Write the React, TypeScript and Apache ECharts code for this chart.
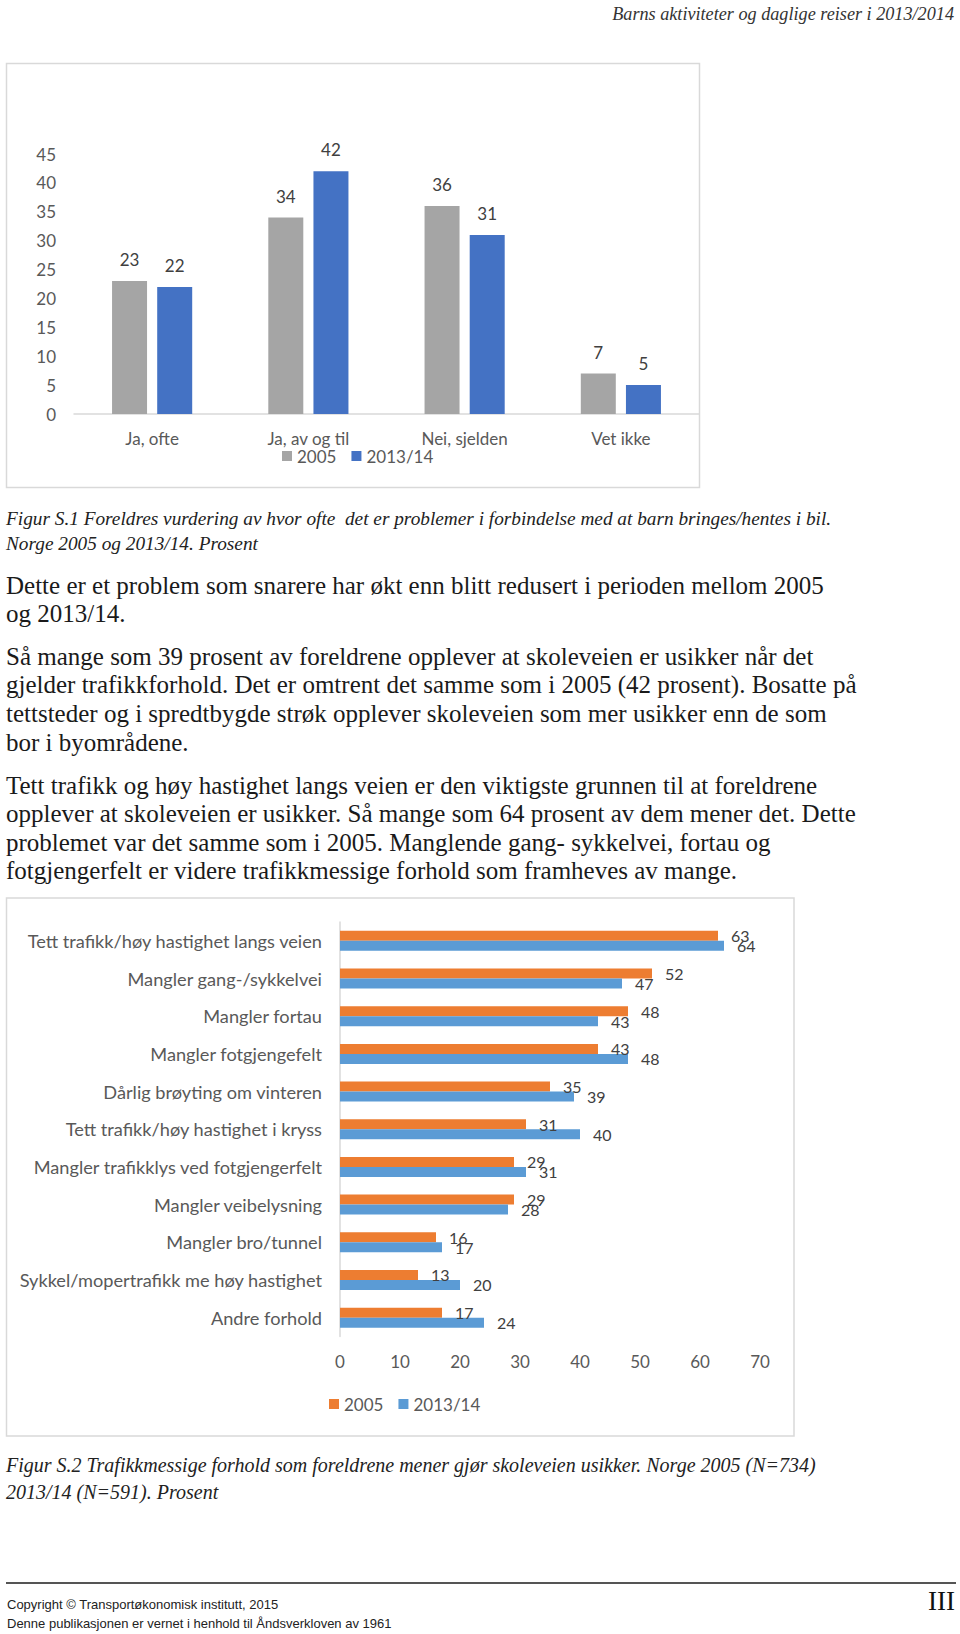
import React, { useEffect, useRef } from "react";
import * as echarts from "echarts";

// ---------- Data ----------
const cats1 = ["Ja, ofte", "Ja, av og til", "Nei, sjelden", "Vet ikke"];
const fig1_2005 = [23, 34, 36, 7];
const fig1_2013 = [22, 42, 31, 5];
const fig1Max = 45;
const fig1Interval = 5;

const cats2 = [
  "Tett trafikk/høy hastighet langs veien",
  "Mangler gang-/sykkelvei",
  "Mangler fortau",
  "Mangler fotgjengefelt",
  "Dårlig brøyting om vinteren",
  "Tett trafikk/høy hastighet i kryss",
  "Mangler trafikklys ved fotgjengerfelt",
  "Mangler veibelysning",
  "Mangler bro/tunnel",
  "Sykkel/mopertrafikk me høy hastighet",
  "Andre forhold",
];
const fig2_2005 = [63, 52, 48, 43, 35, 31, 29, 29, 16, 13, 17];
const fig2_2013 = [64, 47, 43, 48, 39, 40, 31, 28, 17, 20, 24];
const fig2Max = 70;
const fig2Interval = 10;

const seriesNames = ["2005", "2013/14"];

const headerText = "Barns aktiviteter og daglige reiser i 2013/2014";
const caption1 = [
  "Figur S.1 Foreldres vurdering av hvor ofte  det er problemer i forbindelse med at barn bringes/hentes i bil.",
  "Norge 2005 og 2013/14. Prosent",
];
const bodyLines = [
  "Dette er et problem som snarere har økt enn blitt redusert i perioden mellom 2005",
  "og 2013/14.",
  "Så mange som 39 prosent av foreldrene opplever at skoleveien er usikker når det",
  "gjelder trafikkforhold. Det er omtrent det samme som i 2005 (42 prosent). Bosatte på",
  "tettsteder og i spredtbygde strøk opplever skoleveien som mer usikker enn de som",
  "bor i byområdene.",
  "Tett trafikk og høy hastighet langs veien er den viktigste grunnen til at foreldrene",
  "opplever at skoleveien er usikker. Så mange som 64 prosent av dem mener det. Dette",
  "problemet var det samme som i 2005. Manglende gang- sykkelvei, fortau og",
  "fotgjengerfelt er videre trafikkmessige forhold som framheves av mange.",
];
const bodyLineY = [585, 613, 656, 684, 713, 742, 785, 813, 842, 870];
const caption2 = [
  "Figur S.2 Trafikkmessige forhold som foreldrene mener gjør skoleveien usikker. Norge 2005 (N=734)",
  "2013/14 (N=591). Prosent",
];
const footerLines = [
  "Copyright © Transportøkonomisk institutt, 2015",
  "Denne publikasjonen er vernet i henhold til Åndsverkloven av 1961",
];
const pageNumber = "III";

const GRAY = "#A5A5A5";
const BLUE1 = "#4472C4";
const ORANGE = "#ED7D31";
const BLUE2 = "#5B9BD5";
const SANS = "Lato";

export default function App() {
  const ref = useRef<HTMLDivElement>(null);

  useEffect(() => {
    if (!ref.current) return;
    const chart = echarts.init(ref.current, undefined, { renderer: "svg" });

    const serifItalic = (size: number) => `italic ${size}px "Liberation Serif"`;
    const txt = (text: string, x: number, y: number, font: string, fill = "#1a1a1a", align = "left") => ({
      type: "text",
      silent: true,
      style: { text, x, y, font, fill, textAlign: align, textVerticalAlign: "middle" },
    });

    const graphics: any[] = [
      txt(headerText, 954, 14, serifItalic(18.2), "#333", "right"),
      {
        type: "rect",
        silent: true,
        shape: { x: 6.5, y: 63.5, width: 693, height: 424 },
        style: { fill: "none", stroke: "#d9d9d9", lineWidth: 1.5 },
      },
      {
        type: "rect",
        silent: true,
        shape: { x: 6.5, y: 898, width: 787.5, height: 538 },
        style: { fill: "none", stroke: "#d9d9d9", lineWidth: 1.5 },
      },
      txt(caption1[0], 6, 518, serifItalic(19.3), "#222"),
      txt(caption1[1], 6, 543, serifItalic(19.3), "#222"),
      ...bodyLines.map((l, i) => txt(l, 6, bodyLineY[i], '25px "Liberation Serif"')),
      txt(caption2[0], 6, 1465, serifItalic(20), "#222"),
      txt(caption2[1], 6, 1492, serifItalic(20), "#222"),
      {
        type: "line",
        silent: true,
        shape: { x1: 6, y1: 1583, x2: 956, y2: 1583 },
        style: { stroke: "#555", lineWidth: 2 },
      },
      txt(footerLines[0], 7, 1604, '13px "Liberation Sans"', "#222"),
      txt(footerLines[1], 7, 1623, '13px "Liberation Sans"', "#222"),
      txt(pageNumber, 955, 1601, '27px "Liberation Serif"', "#111", "right"),
    ];

    const legendText = { fontFamily: SANS, fontSize: 17, color: "#595959", lineHeight: 18 };

    chart.setOption({
      animation: false,
      backgroundColor: "#ffffff",
      textStyle: { fontFamily: SANS },
      graphic: graphics,
      legend: [
        {
          left: 282,
          top: 447,
          padding: 0,
          itemWidth: 10,
          itemHeight: 10,
          itemGap: 15,
          icon: "rect",
          selectedMode: false,
          textStyle: legendText,
          data: [
            { name: seriesNames[0], itemStyle: { color: GRAY } },
            { name: seriesNames[1], itemStyle: { color: BLUE1 } },
          ],
        },
        {
          left: 329,
          top: 1395,
          padding: 0,
          itemWidth: 10,
          itemHeight: 10,
          itemGap: 15,
          icon: "rect",
          selectedMode: false,
          textStyle: legendText,
          data: [
            { name: seriesNames[0], itemStyle: { color: ORANGE } },
            { name: seriesNames[1], itemStyle: { color: BLUE2 } },
          ],
        },
      ],
      grid: [
        { left: 74, top: 154, width: 625, height: 260, containLabel: false },
        { left: 340, top: 922, width: 420, height: 414.5, containLabel: false },
      ],
      xAxis: [
        {
          gridIndex: 0,
          type: "category",
          data: cats1,
          axisTick: { show: false },
          axisLine: { show: true, lineStyle: { color: "#d9d9d9", width: 1.5 } },
          axisLabel: { margin: 16, fontFamily: SANS, fontSize: 17, color: "#595959" },
        },
        {
          gridIndex: 1,
          type: "value",
          min: 0,
          max: fig2Max,
          interval: fig2Interval,
          splitLine: { show: false },
          axisLine: { show: false },
          axisTick: { show: false },
          axisLabel: { margin: 16, fontFamily: SANS, fontSize: 17, color: "#595959" },
        },
      ],
      yAxis: [
        {
          gridIndex: 0,
          type: "value",
          min: 0,
          max: fig1Max,
          interval: fig1Interval,
          splitLine: { show: false },
          axisLine: { show: false },
          axisTick: { show: false },
          axisLabel: { margin: 18, fontFamily: SANS, fontSize: 17, color: "#595959" },
        },
        {
          gridIndex: 1,
          type: "category",
          inverse: true,
          data: cats2,
          axisTick: { show: false },
          axisLine: { show: true, lineStyle: { color: "#d9d9d9", width: 1.5 } },
          axisLabel: { margin: 18, fontFamily: SANS, fontSize: 18.2, color: "#595959" },
        },
      ],
      series: [
        {
          name: seriesNames[0],
          type: "bar",
          xAxisIndex: 0,
          yAxisIndex: 0,
          data: fig1_2005,
          barWidth: 35,
          barGap: "29%",
          itemStyle: { color: GRAY },
          label: { show: true, position: "top", distance: 13, fontFamily: SANS, fontSize: 17, color: "#404040" },
        },
        {
          name: seriesNames[1],
          type: "bar",
          xAxisIndex: 0,
          yAxisIndex: 0,
          data: fig1_2013,
          barWidth: 35,
          barGap: "29%",
          itemStyle: { color: BLUE1 },
          label: { show: true, position: "top", distance: 13, fontFamily: SANS, fontSize: 17, color: "#404040" },
        },
        {
          name: seriesNames[0],
          type: "bar",
          xAxisIndex: 1,
          yAxisIndex: 1,
          data: fig2_2005,
          barWidth: 10,
          barGap: "0%",
          itemStyle: { color: ORANGE },
          label: { show: true, position: "right", distance: 13, fontFamily: SANS, fontSize: 16, color: "#404040" },
        },
        {
          name: seriesNames[1],
          type: "bar",
          xAxisIndex: 1,
          yAxisIndex: 1,
          data: fig2_2013,
          barWidth: 10,
          barGap: "0%",
          itemStyle: { color: BLUE2 },
          label: { show: true, position: "right", distance: 13, fontFamily: SANS, fontSize: 16, color: "#404040" },
        },
      ],
    });

    return () => chart.dispose();
  }, []);

  return (
    <div
      ref={ref}
      style={{ position: "absolute", left: 0, top: 0, width: 960, height: 1634, background: "#fff" }}
    />
  );
}
